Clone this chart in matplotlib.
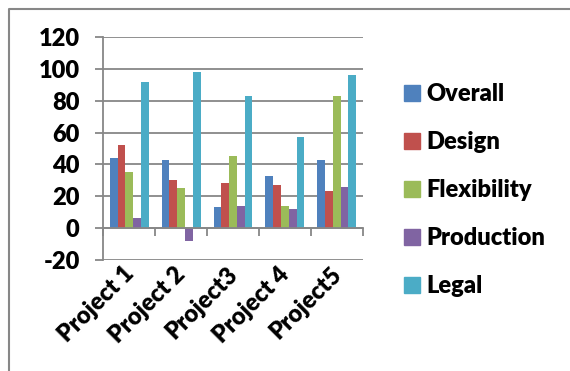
import matplotlib
matplotlib.use("Agg")
import matplotlib.pyplot as plt
from matplotlib.lines import Line2D
from matplotlib.transforms import ScaledTranslation
import numpy as np

plt.rcParams['font.family'] = ['Lato', 'DejaVu Sans']
plt.rcParams['font.weight'] = 'heavy'

projects = ["Project 1", "Project 2", "Project3", "Project 4", "Project5"]
series = ["Overall", "Design", "Flexibility", "Production", "Legal"]
overall = [44, 43, 13, 33, 43]
design = [52, 30, 28, 27, 23]
flexibility = [35, 25, 45, 14, 83]
production = [6, -8, 14, 12, 26]
legal = [92, 98, 83, 57, 96]
colors = ["#4F81BD", "#C0504D", "#9BBB59", "#8064A2", "#4BACC6"]
y_ticks = [-20, 0, 20, 40, 60, 80, 100, 120]

W, H = 570, 371
FS = 17
fig = plt.figure(figsize=(W / 100, H / 100), dpi=100)
ax = fig.add_axes([103.3 / W, 1 - 259.7 / H, (362.7 - 103.3) / W, (259.7 - 37.3) / H])

grid_col = "#878787"
x = np.arange(len(projects))
bw = 0.15
for i, (name, vals) in enumerate(zip(series, [overall, design, flexibility, production, legal])):
    ax.bar(x + (i - 2) * bw, vals, width=bw, color=colors[i], label=name, zorder=3)

ax.set_xlim(-0.5, len(projects) - 0.5)
ax.set_ylim(-20, 120)
ax.set_yticks(y_ticks)
ax.set_yticklabels([str(v) for v in y_ticks])
ax.yaxis.grid(True, color=grid_col, linewidth=1.3, zorder=0)
ax.set_axisbelow(True)

for s in ["top", "right"]:
    ax.spines[s].set_visible(False)
ax.spines["left"].set_color(grid_col)
ax.spines["left"].set_linewidth(1.3)
ax.spines["bottom"].set_position(("data", 0))
ax.spines["bottom"].set_color(grid_col)
ax.spines["bottom"].set_linewidth(1.3)
ax.spines["bottom"].set_zorder(4)

ax.tick_params(axis="y", length=6, width=1.3, color=grid_col, pad=11, labelsize=FS)
ax.set_xticks(x)
ax.set_xticklabels(projects, rotation=45, ha="right", va="top", rotation_mode="anchor")
ax.tick_params(axis="x", which="major", length=0, pad=25, labelsize=FS)
ax.set_xticks(np.arange(-0.5, len(projects), 1.0), minor=True)
ax.tick_params(axis="x", which="minor", length=6, width=1.3, color=grid_col, direction="out")

shift = ScaledTranslation(-7 / 100, 0, fig.dpi_scale_trans)
for lab in ax.get_xticklabels():
    lab.set_transform(lab.get_transform() + shift)
for lab in ax.get_xticklabels() + ax.get_yticklabels():
    lab.set_fontweight("heavy")
    lab.set_color("black")

handles = [plt.Rectangle((0, 0), 1, 1, color=c) for c in colors]
leg = fig.legend(handles, series, loc="upper left", bbox_to_anchor=(404 / W, 1 - 83 / H),
                 frameon=False, fontsize=FS, handlelength=0.66, handleheight=0.66,
                 handletextpad=0.28, labelspacing=1.1, borderaxespad=0, borderpad=0)
for t in leg.get_texts():
    t.set_fontweight("heavy")

# chart frame (left and top edges)
fig.add_artist(Line2D([9 / W, 9 / W, 1.0], [0.0, 1 - 8.5 / H, 1 - 8.5 / H],
                      transform=fig.transFigure, color=grid_col, linewidth=1.5))

fig.savefig("out.png", dpi=100)
